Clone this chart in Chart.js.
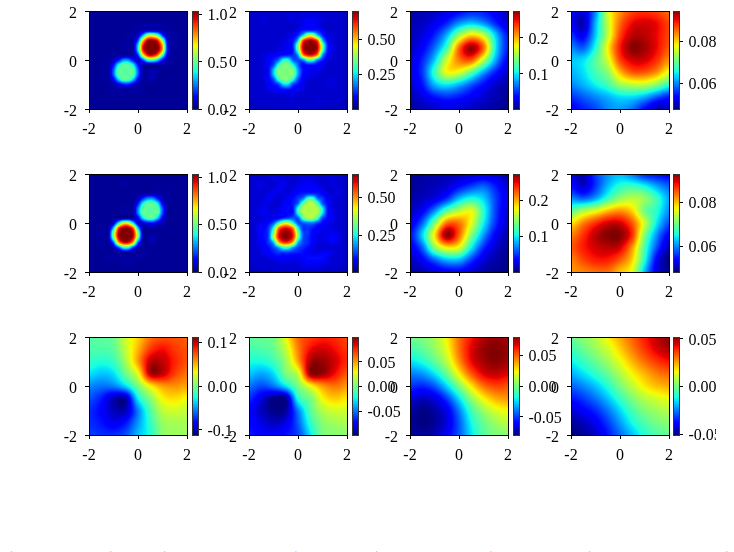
<!DOCTYPE html>
<html>
<head>
<meta charset="utf-8">
<script src="https://cdn.jsdelivr.net/npm/chart.js@4"></script>
<style>
  html, body { margin: 0; padding: 0; background: #fff; }
  body { position: relative; width: 734px; height: 552px; overflow: hidden; font-family: "Liberation Serif", serif; }
  canvas { position: absolute; }
  .paren { position: absolute; top: 550px; font-size: 16px; line-height: 16px; color: #666; }
</style>
</head>
<body>
<script>
// field values, rows run from y=2 down to y=-2, columns from x=-2 to x=2
const gridA1 = [
[.02,.02,.02,.02,.02,.02,.02,.02,.02,.02,.02,.02,.02,.02,.02,.02,.02,.02,.02,.02,.02],
[.02,.02,.02,.02,.02,.02,.02,.02,.02,.02,.02,.02,.02,.02,.02,.02,.02,.02,.02,.02,.02],
[.02,.02,.02,.02,.02,.02,.02,.02,.02,.02,.02,.02,.02,.02,.02,.02,.02,.02,.02,.02,.02],
[.02,.02,.02,.02,.02,.02,.02,.02,.02,.03,.03,.04,.04,.04,.04,.03,.03,.02,.02,.02,.02],
[.02,.02,.02,.02,.02,.02,.02,.02,.02,.03,.03,.05,.08,.08,.07,.04,.03,.03,.02,.02,.02],
[.02,.02,.02,.02,.02,.02,.02,.02,.03,.03,.08,.30,.60,.62,.50,.20,.05,.03,.03,.02,.02],
[.02,.02,.02,.02,.02,.02,.02,.02,.03,.04,.20,.70,.98,1.0,.92,.55,.09,.03,.03,.02,.02],
[.02,.02,.02,.02,.02,.02,.02,.03,.03,.04,.35,.90,1.04,1.04,1.02,.75,.14,.03,.03,.02,.02],
[.02,.02,.02,.02,.02,.02,.02,.03,.03,.04,.35,.90,1.04,1.04,1.02,.74,.14,.03,.03,.02,.02],
[.02,.02,.02,.02,.02,.03,.03,.03,.03,.04,.18,.65,.94,.96,.82,.46,.08,.03,.02,.02,.02],
[.02,.02,.02,.02,.03,.05,.14,.27,.27,.14,.06,.20,.44,.46,.34,.13,.04,.03,.02,.02,.02],
[.02,.02,.02,.03,.03,.14,.38,.47,.47,.38,.14,.05,.03,.03,.03,.03,.03,.02,.02,.02,.02],
[.02,.02,.02,.03,.03,.22,.47,.47,.47,.47,.22,.03,.03,.04,.03,.02,.02,.02,.02,.02,.02],
[.02,.02,.02,.03,.03,.22,.47,.47,.47,.47,.22,.03,.04,.05,.03,.02,.02,.02,.02,.02,.02],
[.02,.02,.02,.03,.03,.11,.33,.46,.46,.33,.11,.03,.03,.04,.02,.02,.02,.02,.02,.02,.02],
[.02,.02,.02,.02,.02,.04,.08,.15,.15,.08,.04,.02,.02,.02,.02,.02,.02,.02,.02,.02,.02],
[.02,.02,.02,.02,.03,.03,.03,.03,.03,.03,.03,.03,.02,.02,.02,.02,.02,.02,.02,.02,.02],
[.02,.02,.02,.02,.02,.03,.03,.03,.03,.03,.03,.02,.02,.02,.02,.02,.02,.02,.02,.02,.02],
[.02,.02,.02,.02,.02,.02,.02,.02,.02,.02,.02,.02,.02,.02,.02,.02,.02,.02,.02,.02,.02],
[.02,.02,.02,.02,.02,.02,.02,.02,.02,.02,.02,.02,.02,.02,.02,.02,.02,.02,.02,.02,.02],
[.02,.02,.02,.02,.02,.02,.02,.02,.02,.02,.02,.02,.02,.02,.02,.02,.02,.02,.02,.02,.02]
];
const gridA2 = [
[.03,.04,.04,.05,.05,.05,.05,.05,.05,.05,.05,.06,.06,.06,.05,.05,.05,.05,.05,.04,.04],
[.04,.05,.05,.05,.05,.05,.05,.05,.06,.06,.05,.06,.06,.06,.06,.05,.05,.05,.05,.05,.04],
[.04,.05,.05,.06,.05,.05,.05,.05,.05,.06,.06,.07,.08,.08,.07,.06,.05,.05,.05,.05,.04],
[.04,.05,.05,.05,.05,.05,.05,.05,.05,.05,.05,.07,.08,.08,.07,.05,.05,.05,.05,.05,.04],
[.04,.05,.05,.05,.05,.05,.05,.05,.05,.05,.08,.11,.12,.12,.11,.08,.05,.05,.05,.05,.04],
[.04,.05,.05,.05,.05,.05,.05,.05,.06,.08,.12,.24,.41,.41,.24,.12,.07,.06,.05,.05,.04],
[.04,.05,.05,.05,.05,.05,.05,.06,.07,.10,.23,.57,.66,.66,.57,.23,.09,.06,.05,.05,.04],
[.04,.05,.05,.05,.05,.05,.06,.06,.08,.12,.36,.65,.70,.70,.65,.36,.12,.07,.05,.05,.04],
[.04,.05,.05,.05,.05,.05,.06,.07,.08,.11,.33,.64,.70,.70,.64,.33,.11,.07,.05,.05,.04],
[.04,.05,.05,.06,.07,.08,.09,.10,.11,.12,.20,.52,.63,.63,.52,.20,.09,.06,.05,.05,.04],
[.04,.05,.05,.06,.08,.11,.16,.27,.27,.16,.14,.18,.31,.31,.18,.11,.07,.05,.05,.05,.04],
[.04,.05,.05,.06,.09,.14,.28,.35,.35,.27,.16,.09,.10,.10,.09,.07,.05,.05,.05,.05,.04],
[.04,.05,.05,.06,.09,.22,.35,.35,.35,.35,.20,.10,.08,.07,.07,.06,.05,.05,.05,.05,.04],
[.04,.05,.05,.06,.09,.22,.35,.35,.35,.35,.20,.09,.07,.07,.06,.05,.05,.05,.05,.05,.04],
[.04,.05,.05,.06,.09,.14,.28,.35,.35,.27,.14,.08,.06,.05,.05,.05,.05,.06,.05,.05,.04],
[.04,.05,.05,.05,.08,.10,.13,.23,.23,.13,.10,.07,.05,.05,.05,.05,.06,.06,.05,.05,.04],
[.04,.05,.05,.05,.07,.08,.09,.10,.10,.09,.08,.06,.05,.05,.05,.05,.05,.05,.05,.05,.04],
[.04,.05,.05,.05,.05,.05,.06,.06,.06,.06,.05,.05,.05,.05,.05,.05,.05,.05,.05,.05,.04],
[.04,.05,.05,.05,.05,.05,.05,.05,.05,.06,.05,.05,.05,.05,.06,.05,.05,.05,.05,.05,.04],
[.04,.04,.05,.05,.05,.05,.05,.05,.05,.05,.05,.05,.05,.05,.05,.05,.05,.05,.05,.04,.04],
[.03,.04,.04,.04,.04,.05,.05,.05,.05,.05,.05,.05,.05,.05,.05,.05,.04,.04,.04,.04,.03]
];
const gridB1 = [
[.02,.02,.02,.02,.02,.02,.02,.02,.02,.02,.02,.02,.02,.02,.02,.02,.02,.02,.02,.02,.02],
[.02,.02,.02,.02,.02,.02,.02,.02,.02,.02,.02,.02,.02,.02,.02,.02,.02,.02,.02,.02,.02],
[.02,.02,.02,.02,.02,.02,.02,.03,.03,.02,.02,.02,.02,.02,.02,.02,.02,.02,.02,.02,.02],
[.02,.02,.02,.02,.02,.02,.02,.02,.02,.02,.02,.02,.02,.02,.03,.02,.02,.03,.02,.02,.02],
[.02,.02,.02,.02,.02,.02,.02,.02,.02,.02,.03,.03,.04,.04,.04,.03,.03,.02,.02,.02,.02],
[.02,.02,.02,.02,.02,.02,.02,.02,.02,.02,.05,.17,.27,.27,.15,.05,.03,.02,.02,.02,.02],
[.02,.02,.02,.02,.02,.02,.02,.02,.02,.03,.14,.38,.47,.47,.37,.11,.03,.02,.02,.02,.02],
[.02,.02,.02,.02,.02,.02,.02,.03,.03,.03,.25,.47,.47,.47,.47,.20,.03,.02,.02,.02,.02],
[.02,.02,.02,.02,.02,.02,.02,.03,.03,.03,.25,.47,.47,.47,.47,.20,.03,.02,.02,.02,.02],
[.02,.02,.02,.02,.02,.03,.03,.03,.04,.04,.11,.35,.46,.46,.33,.10,.03,.02,.02,.02,.02],
[.02,.02,.02,.02,.02,.07,.36,.62,.62,.36,.07,.08,.14,.14,.08,.05,.02,.02,.02,.02,.02],
[.02,.02,.02,.03,.04,.32,.84,1.0,1.0,.84,.32,.04,.03,.03,.03,.02,.02,.02,.02,.02,.02],
[.02,.02,.03,.03,.05,.53,.97,1.04,1.04,.97,.53,.05,.03,.02,.02,.02,.02,.02,.02,.02,.02],
[.02,.02,.03,.03,.05,.49,.95,1.04,1.04,.95,.49,.05,.03,.05,.03,.02,.02,.02,.02,.02,.02],
[.02,.02,.03,.03,.03,.22,.73,.93,.93,.73,.22,.03,.03,.04,.02,.02,.02,.02,.02,.02,.02],
[.02,.02,.02,.03,.02,.05,.20,.42,.42,.20,.05,.02,.02,.02,.02,.02,.02,.02,.02,.02,.02],
[.02,.02,.02,.02,.02,.02,.03,.04,.04,.03,.02,.03,.03,.02,.02,.02,.02,.02,.02,.02,.02],
[.02,.02,.02,.02,.03,.03,.03,.03,.03,.03,.03,.03,.02,.02,.02,.02,.02,.02,.02,.02,.02],
[.02,.02,.02,.02,.02,.02,.03,.03,.03,.03,.02,.02,.02,.02,.02,.02,.02,.02,.02,.02,.02],
[.02,.02,.02,.02,.02,.02,.02,.02,.02,.02,.02,.02,.02,.02,.02,.02,.02,.02,.02,.02,.02],
[.02,.02,.02,.02,.02,.02,.02,.02,.02,.02,.02,.02,.02,.02,.02,.02,.02,.02,.02,.02,.02]
];
const gridB2 = [
[.03,.04,.04,.05,.05,.05,.05,.05,.05,.05,.05,.05,.05,.05,.05,.05,.05,.05,.05,.04,.04],
[.04,.05,.05,.05,.05,.06,.06,.06,.05,.05,.05,.06,.06,.06,.05,.05,.05,.06,.05,.05,.04],
[.04,.05,.06,.06,.05,.05,.06,.07,.06,.05,.06,.07,.07,.07,.06,.05,.05,.06,.05,.05,.04],
[.04,.05,.06,.05,.05,.06,.07,.06,.05,.06,.07,.08,.08,.08,.08,.06,.05,.05,.06,.05,.04],
[.04,.05,.05,.05,.06,.07,.06,.06,.06,.07,.09,.10,.11,.11,.10,.08,.06,.05,.06,.05,.04],
[.04,.05,.05,.06,.07,.06,.05,.06,.07,.09,.12,.16,.27,.28,.16,.12,.08,.06,.05,.05,.04],
[.04,.05,.05,.06,.06,.05,.05,.07,.08,.10,.15,.30,.37,.37,.29,.14,.09,.06,.05,.05,.04],
[.04,.05,.06,.07,.06,.05,.06,.08,.09,.10,.26,.36,.37,.37,.36,.24,.10,.06,.05,.05,.04],
[.04,.05,.06,.07,.06,.06,.07,.08,.09,.10,.25,.36,.37,.37,.36,.23,.10,.07,.05,.05,.04],
[.04,.05,.05,.06,.06,.07,.08,.11,.13,.14,.14,.29,.36,.36,.28,.13,.09,.07,.05,.05,.04],
[.04,.05,.06,.07,.09,.14,.26,.38,.38,.26,.14,.14,.16,.16,.12,.09,.07,.06,.05,.05,.04],
[.04,.05,.07,.08,.12,.25,.50,.58,.58,.50,.25,.12,.12,.10,.08,.07,.06,.06,.05,.05,.04],
[.04,.05,.07,.09,.13,.33,.57,.64,.64,.57,.33,.14,.12,.08,.07,.06,.06,.07,.06,.05,.04],
[.04,.05,.07,.09,.13,.35,.57,.64,.64,.57,.32,.14,.11,.08,.06,.06,.07,.08,.07,.05,.04],
[.04,.05,.07,.08,.12,.20,.45,.55,.55,.45,.20,.13,.11,.08,.06,.06,.06,.07,.06,.05,.04],
[.04,.05,.06,.07,.09,.13,.19,.28,.28,.19,.13,.11,.09,.07,.05,.05,.05,.05,.05,.05,.04],
[.04,.05,.05,.07,.08,.10,.12,.12,.12,.11,.10,.09,.07,.06,.06,.07,.07,.06,.05,.05,.04],
[.04,.05,.05,.05,.06,.07,.08,.08,.08,.07,.07,.08,.09,.09,.09,.09,.07,.05,.05,.05,.04],
[.04,.05,.05,.05,.05,.05,.06,.06,.06,.06,.06,.07,.08,.08,.08,.07,.06,.05,.05,.05,.04],
[.04,.04,.05,.05,.05,.05,.05,.05,.05,.05,.05,.06,.06,.06,.06,.05,.05,.05,.05,.04,.04],
[.03,.04,.04,.04,.04,.05,.05,.05,.05,.05,.05,.05,.05,.05,.05,.05,.04,.04,.04,.04,.03]
];
const gridA3 = [
[.012,.014,.018,.025,.035,.045,.042,.03,.018],
[.014,.018,.028,.045,.075,.09,.075,.045,.022],
[.016,.025,.045,.085,.15,.19,.165,.09,.04],
[.018,.033,.065,.12,.22,.27,.22,.1,.042],
[.022,.045,.09,.165,.215,.225,.16,.08,.032],
[.025,.05,.115,.175,.17,.13,.08,.042,.02],
[.02,.04,.085,.1,.085,.06,.037,.02,.012],
[.015,.025,.04,.048,.042,.032,.022,.014,.008],
[.01,.015,.02,.025,.022,.018,.014,.01,.006]
];
const gridA4 = [
[.053,.052,.06,.076,.083,.087,.088,.087,.085],
[.053,.05,.062,.075,.085,.09,.091,.09,.087],
[.056,.053,.063,.075,.087,.092,.092,.09,.087],
[.06,.058,.066,.078,.089,.094,.093,.09,.086],
[.063,.064,.069,.076,.087,.091,.091,.088,.083],
[.062,.064,.068,.072,.081,.086,.086,.083,.077],
[.06,.062,.065,.068,.073,.075,.075,.072,.067],
[.056,.058,.06,.062,.064,.064,.062,.058,.055],
[.053,.055,.057,.06,.061,.059,.054,.05,.051]
];
const gridB3 = [
[.006,.008,.01,.012,.015,.018,.02,.018,.012],
[.006,.01,.014,.02,.035,.05,.06,.04,.02],
[.01,.015,.024,.045,.085,.105,.09,.05,.025],
[.015,.03,.07,.125,.155,.17,.11,.05,.022],
[.025,.06,.135,.215,.215,.17,.1,.045,.018],
[.035,.09,.18,.27,.22,.14,.075,.03,.012],
[.025,.06,.14,.18,.17,.1,.045,.018,.007],
[.015,.03,.06,.085,.085,.05,.022,.01,.004],
[.008,.014,.022,.03,.032,.02,.01,.005,.002]
];
const gridB4 = [
[.052,.05,.056,.06,.062,.059,.055,.054,.053],
[.054,.051,.056,.062,.066,.067,.065,.061,.058],
[.06,.058,.061,.067,.072,.074,.072,.067,.061],
[.069,.073,.076,.08,.082,.079,.07,.066,.06],
[.078,.083,.087,.09,.09,.085,.075,.064,.057],
[.083,.087,.091,.093,.093,.087,.071,.06,.053],
[.085,.088,.09,.091,.09,.082,.068,.057,.05],
[.083,.086,.088,.088,.085,.079,.066,.053,.048],
[.082,.083,.084,.084,.08,.076,.062,.052,.049]
];
const gridC1 = [
[-.01,-.009,-.004,.024,.042,.066,.074,.074,.07],
[-.012,-.012,-.008,.02,.05,.08,.09,.08,.074],
[-.02,-.024,-.018,.012,.055,.1,.1,.085,.074],
[-.033,-.04,-.034,-.004,.03,.102,.1,.078,.066],
[-.053,-.058,-.055,-.035,0,.035,.055,.058,.053],
[-.066,-.078,-.1,-.102,-.03,.004,.034,.04,.033],
[-.074,-.085,-.1,-.1,-.055,-.012,.018,.024,.02],
[-.074,-.08,-.09,-.08,-.05,-.02,.008,.012,.012],
[-.07,-.074,-.074,-.066,-.042,-.024,.004,.009,.01]
];
const gridC2 = [
[-.005,-.004,0,.028,.06,.07,.076,.074,.068],
[-.012,-.01,-.004,.018,.055,.08,.086,.08,.072],
[-.022,-.022,-.014,.008,.048,.092,.095,.086,.074],
[-.034,-.04,-.03,0,.02,.095,.095,.08,.064],
[-.05,-.058,-.05,-.028,0,.028,.05,.058,.05],
[-.064,-.08,-.095,-.095,-.02,0,.03,.04,.034],
[-.074,-.086,-.095,-.092,-.048,-.008,.014,.022,.022],
[-.072,-.08,-.086,-.08,-.055,-.018,.004,.01,.012],
[-.068,-.074,-.076,-.07,-.06,-.028,0,.004,.005]
];
const gridC3 = [
[-.002,0,.008,.024,.046,.062,.072,.076,.074],
[-.012,-.006,.004,.02,.046,.066,.076,.079,.076],
[-.024,-.018,-.006,.012,.04,.064,.074,.078,.074],
[-.04,-.036,-.024,-.004,.024,.05,.066,.07,.066],
[-.052,-.054,-.046,-.026,0,.026,.046,.054,.052],
[-.066,-.07,-.066,-.05,-.024,.004,.024,.036,.04],
[-.074,-.078,-.074,-.064,-.04,-.012,.006,.018,.024],
[-.076,-.079,-.076,-.066,-.046,-.02,-.004,.006,.012],
[-.074,-.076,-.072,-.062,-.046,-.024,-.008,0,.002]
];
const gridC4 = [
[-.002,.003,.008,.016,.024,.032,.04,.046,.051],
[-.007,-.002,.004,.011,.02,.029,.037,.044,.048],
[-.013,-.008,-.002,.005,.014,.023,.031,.037,.041],
[-.02,-.015,-.009,-.002,.007,.016,.023,.029,.032],
[-.028,-.024,-.018,-.01,0,.009,.017,.022,.024],
[-.036,-.032,-.026,-.018,-.008,.001,.008,.012,.015],
[-.043,-.039,-.034,-.026,-.016,-.006,.001,.005,.008],
[-.048,-.045,-.04,-.032,-.022,-.012,-.005,0,.002],
[-.051,-.048,-.044,-.036,-.027,-.018,-.01,-.005,-.002]
];

// colour limits per panel and what the colorbars show
const rangeLow  = [0, .003, .002, .048, 0, .004, 0, .048, -.1115, -.097, -.0793, -.0505];
const rangeHigh = [1.04, .705, .275, .0944, 1.035, .656, .273, .0933, .113, .0998, .0793, .052];
const barTicks = [
  [0, .5, 1], [.25, .5], [.1, .2], [.06, .08],
  [0, .5, 1], [.25, .5], [.1, .2], [.06, .08],
  [-.1, 0, .1], [-.05, 0, .05], [-.05, 0, .05], [-.05, 0, .05]
];
const barLabels = [
  ['0.0', '0.5', '1.0'], ['0.25', '0.50'], ['0.1', '0.2'], ['0.06', '0.08'],
  ['0.0', '0.5', '1.0'], ['0.25', '0.50'], ['0.1', '0.2'], ['0.06', '0.08'],
  ['-0.1', '0.0', '0.1'], ['-0.05', '0.00', '0.05'], ['-0.05', '0.00', '0.05'], ['-0.05', '0.00', '0.05']
];
const axisTicks = [-2, 0, 2];
const parenMarks = [[7, '('], [110, ')'], [160, '('], [295, ')'], [372, '('], [490, ')'], [585, '('], [726, ')']];

const grids = [gridA1, gridA2, gridA3, gridA4, gridB1, gridB2, gridB3, gridB4, gridC1, gridC2, gridC3, gridC4];
const panelLeft = [89, 249, 410, 571];
const panelTop = [11, 174, 337];
const barLeft = [192, 352, 513, 673];
const SIZE = 98;
const FONT = { family: '"Liberation Serif", serif', size: 16 };
const PAD = { l: 34, r: 14, t: 8, b: 30 };

Chart.defaults.animation = false;
Chart.defaults.color = '#000';

// same breakpoints as the usual jet colormap
function ramp(t, pts) {
  if (t <= pts[0][0]) return pts[0][1];
  for (let i = 1; i < pts.length; i++) {
    if (t <= pts[i][0]) {
      const a = pts[i - 1], b = pts[i];
      return a[1] + (b[1] - a[1]) * (t - a[0]) / (b[0] - a[0]);
    }
  }
  return pts[pts.length - 1][1];
}
const jetR = [[.35, 0], [.66, 1], [.89, 1], [1, .5]];
const jetG = [[.125, 0], [.375, 1], [.64, 1], [.91, 0]];
const jetB = [[0, .5], [.11, 1], [.34, 1], [.65, 0]];
function jet(t) {
  return [ramp(t, jetR) * 255, ramp(t, jetG) * 255, ramp(t, jetB) * 255];
}

function cubic(a, b, c, d, s) {
  return b + .5 * s * (c - a + s * (2 * a - 5 * b + 4 * c - d + s * (3 * (b - c) + d - a)));
}

// paints the field between the grid nodes, like imshow with a smooth interpolation
const heatField = {
  id: 'heatField',
  beforeDatasetsDraw(chart) {
    const { ctx, chartArea: area, scales } = chart;
    const ds = chart.data.datasets[0];
    const n = Math.round(Math.sqrt(ds.data.length));
    const at = (i, j) => {
      i = Math.max(0, Math.min(n - 1, i));
      j = Math.max(0, Math.min(n - 1, j));
      return ds.data[j * n + i].v;
    };
    const w = Math.round(area.right - area.left), h = Math.round(area.bottom - area.top);
    const off = document.createElement('canvas');
    off.width = w; off.height = h;
    const octx = off.getContext('2d');
    const img = octx.createImageData(w, h);
    for (let py = 0; py < h; py++) {
      const gy = (2 - scales.y.getValueForPixel(area.top + py + .5)) / 4 * (n - 1);
      const j = Math.floor(gy), fy = gy - j;
      for (let px = 0; px < w; px++) {
        const gx = (scales.x.getValueForPixel(area.left + px + .5) + 2) / 4 * (n - 1);
        const i = Math.floor(gx), fx = gx - i;
        const rows = [-1, 0, 1, 2].map(dj =>
          cubic(at(i - 1, j + dj), at(i, j + dj), at(i + 1, j + dj), at(i + 2, j + dj), fx));
        const v = cubic(rows[0], rows[1], rows[2], rows[3], fy);
        const t = Math.max(0, Math.min(1, (v - ds.low) / (ds.high - ds.low)));
        const c = jet(t), k = (py * w + px) * 4;
        img.data[k] = c[0]; img.data[k + 1] = c[1]; img.data[k + 2] = c[2]; img.data[k + 3] = 255;
      }
    }
    octx.putImageData(img, 0, 0);
    ctx.drawImage(off, area.left, area.top);
  }
};

// closes the box on the sides that have no axis
const frame = {
  id: 'frame',
  afterDraw(chart) {
    const { ctx, chartArea: a } = chart;
    ctx.save();
    ctx.strokeStyle = chart.options.plugins.frame.color;
    ctx.lineWidth = 1;
    ctx.strokeRect(a.left + .5, a.top + .5, a.right - a.left, a.bottom - a.top);
    ctx.restore();
  }
};

function addCanvas(left, top, width, height) {
  const c = document.createElement('canvas');
  c.width = width; c.height = height;
  c.style.left = left + 'px';
  c.style.top = top + 'px';
  document.body.appendChild(c);
  return c;
}

// tick labels must not eat into the plot box
function noScalePadding(s) {
  s.paddingLeft = s.paddingRight = s.paddingTop = s.paddingBottom = 0;
}

// serif digits sit high on a middle baseline, nudge the y labels down
function nudgeLabels(s) {
  const compute = s._computeLabelItems;
  s._computeLabelItems = area => compute.call(s, area).map(item => {
    item.options.translation[1] += 1.5;
    return item;
  });
}

function axisOptions(position, fit) {
  return {
    type: 'linear', position, min: -2, max: 2,
    afterBuildTicks(s) { s.ticks = axisTicks.map(value => ({ value })); },
    afterFit(s) {
      fit(s);
      noScalePadding(s);
      if (position === 'left') nudgeLabels(s);
    },
    grid: { drawOnChartArea: false, tickLength: 4, color: '#000' },
    border: { display: true, color: '#000', width: 1 },
    ticks: { font: FONT, autoSkip: false, maxRotation: 0, padding: position === 'left' ? 8 : 7 }
  };
}

function drawPanel(idx, left, top) {
  const grid = grids[idx];
  const n = grid.length;
  const points = [];
  grid.forEach((row, j) => row.forEach((v, i) => {
    points.push({ x: -2 + 4 * i / (n - 1), y: 2 - 4 * j / (n - 1), v });
  }));
  const canvas = addCanvas(left - PAD.l, top - PAD.t, SIZE + PAD.l + PAD.r, SIZE + PAD.t + PAD.b);
  new Chart(canvas, {
    type: 'scatter',
    data: { datasets: [{ data: points, pointRadius: 0, low: rangeLow[idx], high: rangeHigh[idx] }] },
    options: {
      responsive: false,
      layout: { autoPadding: false, padding: { top: PAD.t, right: PAD.r, left: 0, bottom: 0 } },
      plugins: { legend: { display: false }, tooltip: { enabled: false }, frame: { color: '#000' } },
      scales: {
        x: axisOptions('bottom', s => { s.height = PAD.b; }),
        y: axisOptions('left', s => { s.width = PAD.l; })
      }
    },
    plugins: [heatField, frame]
  });
}

function drawColorbar(idx, left, top, maxRight) {
  const low = rangeLow[idx], high = rangeHigh[idx];
  const levels = 64;
  const datasets = [];
  // nested bars, the lowest one sits on top, so no seams appear between levels
  for (let k = 0; k < levels; k++) {
    const c = jet((k + .5) / levels);
    datasets.push({
      data: [[low, low + (high - low) * (k + 1) / levels]],
      backgroundColor: `rgb(${c[0]},${c[1]},${c[2]})`,
      borderWidth: 0, grouped: false, barPercentage: 1, categoryPercentage: 1
    });
  }
  const width = Math.min(70, maxRight - (left - 1));
  const canvas = addCanvas(left - 1, top - PAD.t, width, SIZE + PAD.t + 8);
  new Chart(canvas, {
    type: 'bar',
    data: { labels: [''], datasets },
    options: {
      responsive: false,
      layout: { autoPadding: false, padding: { top: PAD.t, bottom: 8, left: 1, right: 0 } },
      plugins: { legend: { display: false }, tooltip: { enabled: false }, frame: { color: '#333' } },
      scales: {
        x: { display: false },
        y: {
          type: 'linear', position: 'right', min: low, max: high,
          afterBuildTicks(s) { s.ticks = barTicks[idx].map(value => ({ value })); },
          afterFit(s) { s.width = width - 7; noScalePadding(s); nudgeLabels(s); },
          grid: { drawOnChartArea: false, tickLength: 4, color: '#000' },
          border: { display: false },
          ticks: {
            font: FONT, autoSkip: false, maxRotation: 0, padding: 5.5,
            callback(value, i) { return barLabels[idx][i]; }
          }
        }
      }
    },
    plugins: [frame]
  });
}

panelTop.forEach((top, r) => {
  panelLeft.forEach((left, c) => {
    drawPanel(r * 4 + c, left, top);
    drawColorbar(r * 4 + c, barLeft[c], top, c === 3 ? 716 : 734);
  });
});

// caption brackets that just reach the bottom edge
parenMarks.forEach(([x, s]) => {
  const el = document.createElement('span');
  el.className = 'paren';
  el.style.left = x + 'px';
  el.textContent = s;
  document.body.appendChild(el);
});
</script>
</body>
</html>
